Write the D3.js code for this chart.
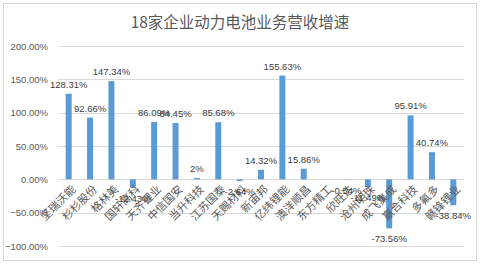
<!DOCTYPE html>
<html>
<head>
<meta charset="utf-8">
<script src="https://cdn.jsdelivr.net/npm/d3@7"></script>
<style>
  body { margin: 0; background: #fff; }
  svg { display: block; }
</style>
</head>
<body>
<svg id="chart" width="480" height="264"></svg>
<script>
var titleText = "18家企业动力电池业务营收增速";

var categories = ["坚瑞沃能", "杉杉股份", "格林美", "国轩高科", "天齐锂业", "中信国安", "当升科技",
    "江苏国泰", "天赐材料", "新宙邦", "亿纬锂能", "澳洋顺昌", "东方精工", "欣旺达", "沧州明珠",
    "成飞集成", "赢合科技", "多氟多", "赣锋锂业"];

var growth = [128.31, 92.66, 147.34, -12.43, 86.09, 84.45, 2, 85.68, -2.64, 14.32, 155.63, 15.86,
    null, -0.54, -11.49, -73.56, 95.91, 40.74, -38.84];

var yTicks = [-100, -50, 0, 50, 100, 150, 200];

var svg = d3.select("#chart");
var W = 480, H = 264;
var plotLeft = 58, plotRight = 464, plotTop = 46, plotBottom = 246;

// chart frame
svg.append("rect")
    .attr("x", 3.5).attr("y", 3.5)
    .attr("width", W - 7).attr("height", H - 7)
    .attr("fill", "#fff")
    .attr("stroke", "#d9d9d9");

svg.append("text")
    .attr("x", W / 2).attr("y", 28)
    .attr("text-anchor", "middle")
    .style("font-family", "'Noto Sans CJK SC', sans-serif")
    .style("font-size", "15.5px")
    .style("fill", "#595959")
    .text(titleText);

var x = d3.scaleBand()
    .domain(categories)
    .range([plotLeft, plotRight])
    .paddingInner(0.72)
    .paddingOuter(0.36);

var y = d3.scaleLinear()
    .domain([-100, 200])
    .range([plotBottom, plotTop]);

// gridlines
svg.append("g")
    .selectAll("line")
    .data(yTicks)
    .join("line")
    .attr("x1", plotLeft).attr("x2", plotRight)
    .attr("y1", function (d) { return Math.round(y(d)) + 0.5; })
    .attr("y2", function (d) { return Math.round(y(d)) + 0.5; })
    .attr("stroke", "#d9d9d9")
    .attr("stroke-width", 1);

// y axis labels
var yAxis = d3.axisLeft(y)
    .tickValues(yTicks)
    .tickSize(0)
    .tickPadding(10)
    .tickFormat(function (d) { return d3.format(".2f")(d) + "%"; });

svg.append("g")
    .attr("transform", "translate(" + plotLeft + ",0)")
    .call(yAxis)
    .call(function (g) { g.select(".domain").remove(); })
    .selectAll("text")
    .style("font-family", "'Liberation Sans', Arial, sans-serif")
    .style("font-size", "9.5px")
    .style("fill", "#595959");

var data = categories.map(function (c, i) { return { name: c, v: growth[i] }; });
var withValue = data.filter(function (d) { return d.v !== null; });

// bars
svg.append("g")
    .selectAll("rect")
    .data(withValue)
    .join("rect")
    .attr("x", function (d) { return x(d.name); })
    .attr("width", x.bandwidth())
    .attr("y", function (d) { return y(Math.max(0, d.v)); })
    .attr("height", function (d) { return Math.abs(y(d.v) - y(0)); })
    .attr("fill", "#5b9bd5");

// category labels
svg.append("g")
    .selectAll("text")
    .data(categories)
    .join("text")
    .attr("transform", function (d) {
        return "translate(" + (x(d) + x.bandwidth() / 2 + 5) + "," + (y(0) + 8) + ") rotate(-45)";
    })
    .attr("text-anchor", "end")
    .attr("dy", "0.35em")
    .style("font-family", "'Noto Sans CJK SC', sans-serif")
    .style("font-size", "11px")
    .style("fill", "#595959")
    .text(function (d) { return d; });

// value labels
svg.append("g")
    .selectAll("text")
    .data(withValue)
    .join("text")
    .attr("x", function (d) { return x(d.name) + x.bandwidth() / 2; })
    .attr("y", function (d) { return d.v >= 0 ? y(d.v) - 6 : y(d.v) + 14; })
    .attr("text-anchor", "middle")
    .style("font-family", "'Liberation Sans', Arial, sans-serif")
    .style("font-size", "9.5px")
    .style("fill", "#404040")
    .text(function (d) { return d.v + "%"; });
</script>
</body>
</html>
